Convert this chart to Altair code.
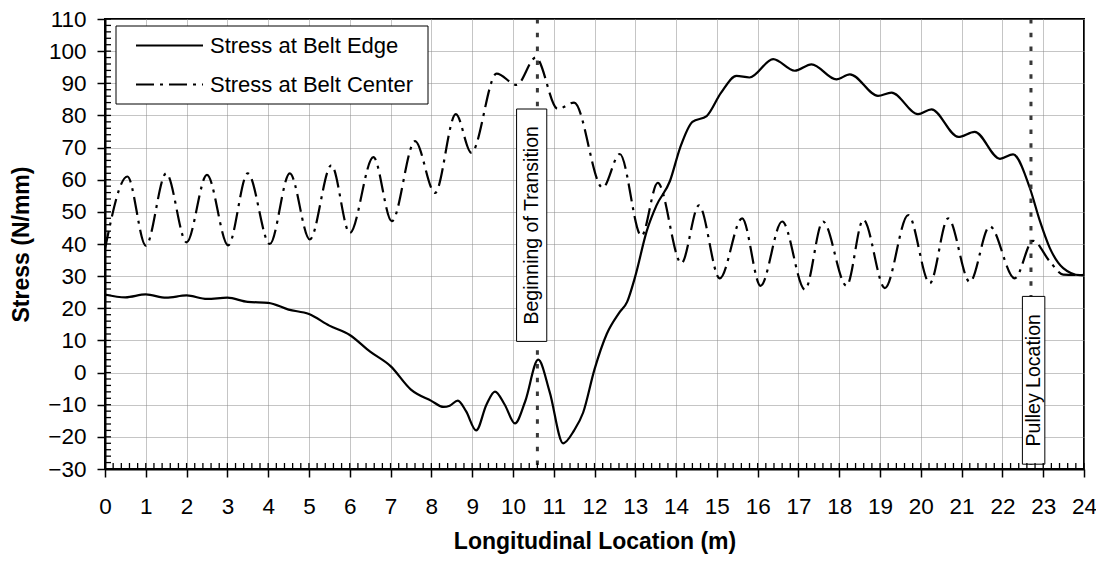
import altair as alt
import pandas as pd
import numpy as np

# ---------------- data ----------------
edge_x = [0.0, 0.5, 1.0, 1.5, 2.0, 2.5, 3.0, 3.5, 4.0, 4.5, 5.0, 5.5, 6.0, 6.5, 7.0,
          7.5, 8.0, 8.3, 8.45, 8.65, 8.85, 9.1, 9.35, 9.56, 9.8, 10.05, 10.3, 10.62,
          10.9, 11.23, 11.5, 11.72, 12.0, 12.3, 12.6, 12.8, 13.0, 13.28, 13.52, 13.85,
          14.1, 14.4, 14.75, 15.1, 15.48, 15.8, 16.38, 16.91, 17.32, 17.93, 18.26,
          18.95, 19.28, 19.93, 20.26, 20.92, 21.32, 21.94, 22.26, 22.67, 22.92, 23.16,
          23.49, 23.9, 24.0]
edge_y = [24.3, 23.4, 24.3, 23.3, 24.0, 22.9, 23.3, 22.0, 21.7, 19.6, 18.2, 14.6, 11.7, 6.5, 2.0,
          -5.3, -8.8, -10.7, -10.3, -8.7, -12.0, -18.0, -10.0, -5.9, -10.0, -15.8, -9.0, 4.0,
          -6.0, -22.0, -18.0, -12.5, 1.0, 12.0, 18.5, 22.0, 30.0, 44.0, 52.0, 59.6,
          70.0, 78.0, 79.8, 87.0, 92.3, 91.8, 97.5, 93.9, 95.9, 91.2, 92.8,
          86.1, 87.1, 80.4, 81.9, 73.3, 74.9, 66.5, 67.9, 57.5, 47.1, 38.8,
          32.5, 30.3, 30.4]

center_x = [0.0, 0.55, 1.0, 1.5, 2.0, 2.5, 3.02, 3.5, 4.04, 4.53, 5.02, 5.55, 6.0, 6.58,
            7.03, 7.6, 8.09, 8.6, 8.98, 9.6, 10.09, 10.56, 11.1, 11.5, 12.2, 12.62, 13.15,
            13.55, 14.13, 14.56, 15.07, 15.62, 16.07, 16.6, 17.16, 17.6, 18.18, 18.59,
            19.12, 19.69, 20.22, 20.67, 21.2, 21.69, 22.3, 22.75, 23.16, 23.49, 24.0]
center_y = [38.5, 61.0, 39.5, 62.0, 40.5, 61.5, 39.6, 62.0, 40.0, 62.0, 41.4, 64.5, 43.4, 67.0,
            47.1, 72.0, 55.9, 80.4, 68.4, 93.0, 89.5, 98.0, 82.0, 84.0, 57.5, 68.0, 42.5,
            59.0, 34.0, 52.0, 29.3, 48.0, 27.0, 47.0, 25.8, 47.0, 27.0, 47.6,
            26.3, 49.0, 27.8, 48.0, 28.2, 45.5, 29.3, 41.0, 34.6, 30.5, 30.3]

series_names = ["Stress at Belt Edge", "Stress at Belt Center"]
marker_labels = ["Beginning of Transition", "Pulley Location"]
marker_x = [10.6, 22.7]

x_ticks = list(range(0, 25))
y_ticks = list(range(-30, 111, 10))
x_minor = [round(v, 2) for v in np.arange(0, 24.001, 0.2)]
y_minor = list(range(-30, 111, 2))

# ---------------- styling ----------------
FONT = "Liberation Sans"
W, H = 979, 450
LABEL_FS = 22.5
TITLE_FS = 23

edge_df = pd.DataFrame({"x": edge_x, "y": edge_y, "series": series_names[0]})
center_df = pd.DataFrame({"x": center_x, "y": center_y, "series": series_names[1]})
marker_df = pd.DataFrame({"x": marker_x, "label": marker_labels})
xminor_df = pd.DataFrame({"x": x_minor})
yminor_df = pd.DataFrame({"y": y_minor})

xscale = alt.Scale(domain=[0, 24], nice=False, zero=False)
yscale = alt.Scale(domain=[-30, 110], nice=False, zero=False)

xaxis = alt.Axis(values=x_ticks, title="Longitudinal Location (m)", grid=True,
                 gridColor="#8a8a8a", gridDash=[1, 1], gridWidth=1,
                 tickSize=8, tickWidth=1.5, tickColor="black",
                 domainColor="black", domainWidth=2,
                 labelFontSize=LABEL_FS, labelFont=FONT, labelColor="black", labelPadding=18,
                 labelFlush=False, format="d",
                 titleFontSize=TITLE_FS, titleFont=FONT, titleFontWeight="bold",
                 titleColor="black", titlePadding=13)
yaxis = alt.Axis(values=y_ticks, title="Stress (N/mm)", grid=True,
                 gridColor="#8a8a8a", gridDash=[1, 1], gridWidth=1,
                 tickSize=8, tickWidth=1.5, tickColor="black",
                 domainColor="black", domainWidth=2,
                 labelFontSize=LABEL_FS, labelFont=FONT, labelColor="black", labelPadding=11,
                 labelFlush=False, format="d",
                 titleFontSize=TITLE_FS, titleFont=FONT, titleFontWeight="bold",
                 titleColor="black", titlePadding=14)


def X(field=None, datum=None):
    if datum is not None:
        return alt.X(datum=datum, type="quantitative", scale=xscale, axis=xaxis)
    return alt.X(field, type="quantitative", scale=xscale, axis=xaxis)


def Y(field=None, datum=None):
    if datum is not None:
        return alt.Y(datum=datum, type="quantitative", scale=yscale, axis=yaxis)
    return alt.Y(field, type="quantitative", scale=yscale, axis=yaxis)


edge_line = alt.Chart(edge_df).mark_line(
    interpolate="monotone", color="black", strokeWidth=2.2
).encode(x=X("x"), y=Y("y"))

center_line = alt.Chart(center_df).mark_line(
    interpolate="monotone", color="black", strokeWidth=2.2, strokeDash=[18, 6, 3, 6]
).encode(x=X("x"), y=Y("y"))

marker_rules = alt.Chart(marker_df).mark_rule(
    color="#383838", strokeWidth=3, strokeDash=[4.5, 9.3]
).encode(x=X("x"), y=alt.value(0), y2=alt.value(H))

one = pd.DataFrame({"k": [0]})

trans_box = alt.Chart(marker_df).transform_filter(
    alt.datum.label == marker_labels[0]
).mark_rect(fill="white", stroke="black", strokeWidth=1).encode(
    x=X(datum=10.09), x2=alt.X2(datum=10.83),
    y=Y(datum=82), y2=alt.Y2(datum=9.7),
)
trans_text = alt.Chart(marker_df).transform_filter(
    alt.datum.label == marker_labels[0]
).mark_text(angle=270, fontSize=19.5, font=FONT, color="black",
            align="center", baseline="middle").encode(
    x=X(datum=10.47), y=Y(datum=45.8), text="label:N",
)

pulley_box = alt.Chart(marker_df).transform_filter(
    alt.datum.label == marker_labels[1]
).mark_rect(fill="white", stroke="black", strokeWidth=1).encode(
    x=X(datum=22.49), x2=alt.X2(datum=23.04),
    y=Y(datum=23.7), y2=alt.Y2(datum=-28.5),
)
pulley_text = alt.Chart(marker_df).transform_filter(
    alt.datum.label == marker_labels[1]
).mark_text(angle=270, fontSize=19.5, font=FONT, color="black",
            align="center", baseline="middle").encode(
    x=X(datum=22.77), y=Y(datum=-2.4), text="label:N",
)

x_minor_ticks = alt.Chart(xminor_df).mark_rule(color="black", strokeWidth=1.3).encode(
    x=X("x"), y=alt.value(H), y2=alt.value(H - 6),
)
y_minor_ticks = alt.Chart(yminor_df).mark_rule(color="black", strokeWidth=1.3).encode(
    y=Y("y"), x=alt.value(0), x2=alt.value(6),
)

legend_box = alt.Chart(one).mark_rect(fill="white", stroke="black", strokeWidth=1).encode(
    x=alt.value(11), x2=alt.value(323), y=alt.value(7), y2=alt.value(85)
)
legend_solid = alt.Chart(one).mark_rule(color="black", strokeWidth=2.2).encode(
    x=alt.value(31), x2=alt.value(98), y=alt.value(26.5)
)
legend_dash = alt.Chart(one).mark_rule(color="black", strokeWidth=2.2,
                                        strokeDash=[18, 6, 3, 6]).encode(
    x=alt.value(31), x2=alt.value(98), y=alt.value(65.5)
)
legend_text1 = alt.Chart(pd.DataFrame({"label": [series_names[0]]})).mark_text(
    align="left", baseline="middle", fontSize=22, font=FONT, color="black"
).encode(x=alt.value(105), y=alt.value(27), text="label:N")
legend_text2 = alt.Chart(pd.DataFrame({"label": [series_names[1]]})).mark_text(
    align="left", baseline="middle", fontSize=22, font=FONT, color="black"
).encode(x=alt.value(105), y=alt.value(66), text="label:N")

chart = alt.layer(
    edge_line, marker_rules, trans_box, trans_text, pulley_box, pulley_text,
    center_line, x_minor_ticks, y_minor_ticks,
    legend_box, legend_solid, legend_dash, legend_text1, legend_text2,
).properties(
    width=W, height=H,
    background="white",
    autosize=alt.AutoSizeParams(type="none"),
    padding={"left": 97, "top": 11, "right": 12, "bottom": 88},
).configure_view(
    stroke="black", strokeWidth=2
)

chart.save("out.html", embed_options={"renderer": "svg", "actions": False})
